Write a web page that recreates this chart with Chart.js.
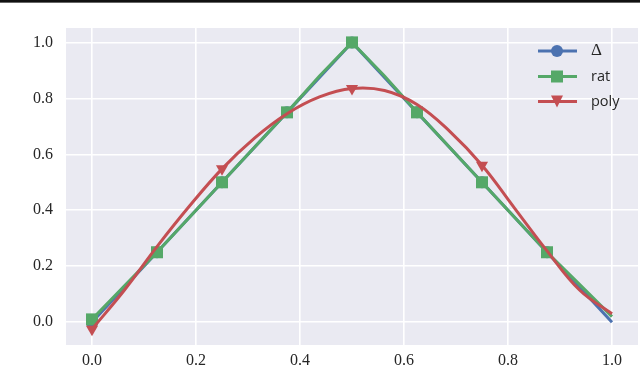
<!DOCTYPE html>
<html>
<head>
<meta charset="utf-8">
<script src="https://cdn.jsdelivr.net/npm/chart.js@4.4.1/dist/chart.umd.min.js"></script>
<style>
  html, body { margin: 0; padding: 0; background: #fff; }
  #wrap { width: 640px; height: 372px; position: relative; }
</style>
</head>
<body>
<div id="wrap"><canvas id="chart" width="640" height="372"></canvas></div>
<script>
// sample positions
const xFine = [0, 0.0625, 0.125, 0.1875, 0.25, 0.3125, 0.375, 0.4375, 0.5,
               0.5625, 0.625, 0.6875, 0.75, 0.8125, 0.875, 0.9375, 1];
const xNodes = [0, 0.125, 0.25, 0.375, 0.5, 0.625, 0.75, 0.875, 1];

// series
const deltaVals = [0, 0.25, 0.5, 0.75, 1.0, 0.75, 0.5, 0.25, 0];
const ratVals = [0.01, 0.13, 0.25, 0.375, 0.5, 0.625, 0.75, 0.88, 1.0,
                 0.88, 0.75, 0.625, 0.5, 0.375, 0.25, 0.135, 0.02];
const polyVals = [-0.025, 0.115, 0.27, 0.415, 0.548, 0.658, 0.745, 0.805, 0.835,
                  0.828, 0.778, 0.683, 0.561, 0.408, 0.255, 0.115, 0.03];

// which samples carry a marker
const deltaMarks = [0, 1, 2, 3, 4, 5, 6, 7];
const ratMarks = [0, 2, 4, 6, 8, 10, 12, 14];
const polyMarks = [0, 4, 8, 12];

const xTicks = [0, 0.2, 0.4, 0.6, 0.8, 1.0];
const yTicks = [0, 0.2, 0.4, 0.6, 0.8, 1.0];

const labels = ['\u0394', 'rat', 'poly'];
const colors = ['#4C72B0', '#55A868', '#C44E52'];
const styles = ['circle', 'rect', 'triangle'];

function pts(xs, ys) {
    return ys.map((y, i) => ({ x: xs[i], y: y }));
}

// pin the plot panel to where the reference has it
const panelRight = 638;
const fixArea = {
    id: 'fixArea',
    afterLayout(chart) {
        const a = chart.chartArea;
        a.right = panelRight;
        a.width = a.right - a.left;
        const xs = chart.scales.x;
        xs.right = panelRight;
        xs.width = xs.right - xs.left;
        xs.configure();
        const ys = chart.scales.y;
        ys._gridLineItems = null;
    }
};

// gray panel + top rule
const background = {
    id: 'background',
    beforeDraw(chart) {
        const { ctx, chartArea: a } = chart;
        ctx.save();
        ctx.fillStyle = '#fff';
        ctx.fillRect(0, 0, chart.width, chart.height);
        ctx.fillStyle = '#EAEAF2';
        ctx.fillRect(a.left, a.top, a.right - a.left, a.bottom - a.top);
        ctx.fillStyle = '#111';
        ctx.fillRect(0, 0, chart.width, 2);
        ctx.fillStyle = '#666';
        ctx.fillRect(0, 2, chart.width, 1);
        ctx.restore();
    }
};

// matplotlib-like legend: line segment with marker, then label
const legendBox = {
    id: 'legendBox',
    afterDraw(chart) {
        const ctx = chart.ctx;
        const rows = [51, 76.5, 101.5];
        ctx.save();
        rows.forEach((y, i) => {
            ctx.strokeStyle = colors[i];
            ctx.lineWidth = 3;
            ctx.beginPath();
            ctx.moveTo(538, y);
            ctx.lineTo(577, y);
            ctx.stroke();
            ctx.fillStyle = colors[i];
            if (i === 0) {
                ctx.beginPath();
                ctx.arc(557, y, 6, 0, 2 * Math.PI);
                ctx.fill();
            } else if (i === 1) {
                ctx.fillRect(551, y - 6, 12, 12);
            } else {
                ctx.beginPath();
                ctx.moveTo(551, y - 6);
                ctx.lineTo(563, y - 6);
                ctx.lineTo(557, y + 6);
                ctx.closePath();
                ctx.fill();
            }
            ctx.fillStyle = '#262626';
            ctx.textBaseline = 'middle';
            ctx.textAlign = 'left';
            ctx.font = i === 0 ? '17px "Liberation Serif"' : '14.5px "Open Sans"';
            ctx.fillText(labels[i], 591, y);
        });
        ctx.restore();
    }
};

function markerRadius(marks, r) {
    return c => marks.includes(c.dataIndex) ? r : 0;
}

const chart = new Chart(document.getElementById('chart'), {
    type: 'scatter',
    data: {
        datasets: [
            {
                label: labels[2],
                data: pts(xFine, polyVals),
                showLine: true,
                tension: 0.4,
                borderColor: colors[2],
                backgroundColor: colors[2],
                borderWidth: 3,
                pointStyle: styles[2],
                rotation: 180,
                pointRadius: markerRadius(polyMarks, 7),
                pointBorderWidth: 0,
                order: 0
            },
            {
                label: labels[1],
                data: pts(xFine, ratVals),
                showLine: true,
                tension: 0,
                borderColor: colors[1],
                backgroundColor: colors[1],
                borderWidth: 3,
                pointStyle: styles[1],
                pointRadius: markerRadius(ratMarks, 8.5),
                pointBorderWidth: 0,
                order: 1
            },
            {
                label: labels[0],
                data: pts(xNodes, deltaVals),
                showLine: true,
                tension: 0,
                borderColor: colors[0],
                backgroundColor: colors[0],
                borderWidth: 3,
                pointStyle: styles[0],
                pointRadius: markerRadius(deltaMarks, 6),
                pointBorderWidth: 0,
                order: 2
            }
        ]
    },
    options: {
        responsive: false,
        animation: false,
        events: [],
        layout: { padding: { top: 28, right: 2, left: 0, bottom: 0 } },
        plugins: {
            legend: { display: false },
            tooltip: { enabled: false }
        },
        scales: {
            x: {
                type: 'linear',
                min: -0.05,
                max: 1.05,
                afterBuildTicks: s => { s.ticks = xTicks.map(v => ({ value: v })); },
                afterFit: s => { s.height = 27; },
                grid: { color: '#fff', lineWidth: 1.6, drawTicks: false },
                border: { display: false },
                ticks: {
                    padding: 6,
                    color: '#262626',
                    font: { family: 'Liberation Serif', size: 16 },
                    maxRotation: 0,
                    callback: v => v.toFixed(1)
                }
            },
            y: {
                type: 'linear',
                min: -0.0815,
                max: 1.0515,
                afterBuildTicks: s => { s.ticks = yTicks.map(v => ({ value: v })); },
                afterFit: s => { s.width = 66; },
                grid: { color: '#fff', lineWidth: 1.6, drawTicks: false },
                border: { display: false },
                ticks: {
                    padding: 13,
                    color: '#262626',
                    font: { family: 'Liberation Serif', size: 16 },
                    callback: v => v.toFixed(1)
                }
            }
        }
    },
    plugins: [fixArea, background, legendBox]
});
</script>
</body>
</html>
